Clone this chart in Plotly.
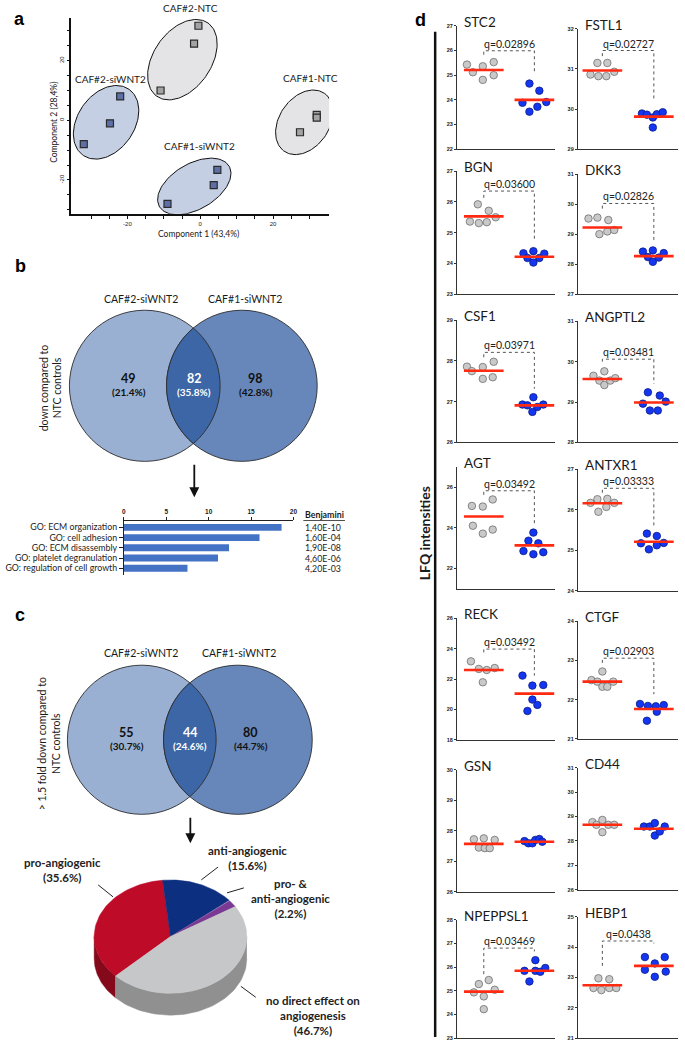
import numpy as np
import plotly.graph_objects as go

W, H = 685, 1046

# ================= DATA =================
# panel a : PCA scores (Component 1, Component 2)
pca_groups = ["CAF#2-NTC", "CAF#2-siWNT2", "CAF#1-NTC", "CAF#1-siWNT2"]
pc1_caf2_ntc = [-0.5, -1.7, -10.9]
pc2_caf2_ntc = [31.7, 25.7, 10.0]
pc1_caf2_si = [-22.0, -24.8, -32.0]
pc2_caf2_si = [8.0, -1.0, -8.0]
pc1_caf1_ntc = [32.0, 32.0, 27.4]
pc2_caf1_ntc = [1.8, 0.9, -4.0]
pc1_caf1_si = [4.7, 3.7, -9.0]
pc2_caf1_si = [-16.6, -21.7, -28.0]

# panel b : Venn + GO enrichment
venn_sets = ["CAF#2-siWNT2", "CAF#1-siWNT2"]
venn_b_counts = [49, 82, 98]
venn_b_pct = ["21.4%", "35.8%", "42.8%"]
go_terms = ["GO: ECM organization", "GO: cell adhesion", "GO: ECM disassembly",
            "GO: platelet degranulation", "GO: regulation of cell growth"]
go_values = [18.6, 16.0, 12.4, 11.1, 7.5]
go_benjamini = ["1,40E-10", "1,60E-04", "1,90E-08", "4,60E-06", "4,20E-03"]

# panel c : Venn + pie
venn_c_counts = [55, 44, 80]
venn_c_pct = ["30.7%", "24.6%", "44.7%"]
pie_labels = ["pro-angiogenic", "anti-angiogenic", "pro- &<br>anti-angiogenic",
              "no direct effect on<br>angiogenesis"]
pie_pct = [35.6, 15.6, 2.2, 46.7]

# panel d : LFQ intensities
genes = ["STC2", "FSTL1", "BGN", "DKK3", "CSF1", "ANGPTL2", "AGT", "ANTXR1",
         "RECK", "CTGF", "GSN", "CD44", "NPEPPSL1", "HEBP1"]
ntc_vals = [
    [25.43, 25.12, 25.36, 24.81, 25.53, 25.00],
    [30.86, 30.82, 31.15, 30.82, 31.15, 30.93],
    [25.36, 25.31, 25.92, 25.34, 25.71, 25.50],
    [29.52, 29.55, 29.00, 29.09, 29.47, 29.14],
    [27.86, 27.75, 27.85, 27.56, 27.98, 27.60],
    [29.65, 29.53, 29.42, 29.76, 29.53, 29.59],
    [25.09, 24.11, 25.06, 23.72, 25.41, 23.92],
    [26.17, 26.26, 25.95, 26.07, 26.27, 26.17],
    [23.17, 22.67, 21.79, 22.60, 22.73],
    [22.50, 22.46, 22.72, 22.33, 22.33, 22.46],
    [27.72, 27.45, 27.75, 27.43, 27.43, 27.70],
    [28.77, 28.66, 28.86, 28.36, 28.66, 28.66],
    [24.93, 25.28, 24.76, 24.22, 25.45, 25.04],
    [22.65, 22.97, 22.58, 22.94, 22.65, 22.65],
]
si_vals = [
    [23.88, 24.66, 23.52, 23.72, 24.37, 23.91],
    [29.89, 29.86, 29.79, 29.54, 29.87, 29.92],
    [24.33, 24.18, 24.40, 24.03, 24.18, 24.32],
    [28.42, 28.24, 28.46, 28.08, 28.22, 28.37],
    [26.93, 26.91, 27.11, 26.75, 26.87, 26.93],
    [28.96, 29.24, 28.79, 28.79, 29.16, 29.01],
    [22.86, 23.37, 22.70, 23.77, 23.24, 22.80],
    [25.17, 25.41, 25.02, 25.35, 25.12, 25.18],
    [22.23, 19.90, 21.57, 20.65, 20.30, 21.61],
    [21.89, 21.84, 21.46, 21.83, 21.69, 21.86],
    [27.66, 27.59, 27.59, 27.70, 27.73, 27.64],
    [28.59, 28.59, 28.73, 28.22, 28.39, 28.59],
    [25.84, 25.39, 25.84, 26.29, 25.80, 25.96],
    [23.67, 23.25, 23.46, 23.02, 23.67, 23.19],
]
ntc_mean = [25.21, 30.96, 25.53, 29.22, 27.76, 29.57, 24.57, 26.16, 22.60, 22.46, 27.57, 28.66, 24.96, 22.74]
si_mean = [24.00, 29.81, 24.22, 28.27, 26.91, 28.99, 23.14, 25.21, 21.04, 21.76, 27.64, 28.50, 25.84, 23.38]
q_vals = ["0.02896", "0.02727", "0.03600", "0.02826", "0.03971", "0.03481", "0.03492",
          "0.03333", "0.03492", "0.02903", None, None, "0.03469", "0.0438"]
y_lo = [22, 29, 23, 27, 26, 28, 21, 24, 18, 21, 26, 26, 23, 21]
y_hi = [27, 32, 27, 31, 29, 31, 27, 27, 26, 24, 30, 31, 28, 25]
y_tick0 = [22, 29, 23, 27, 26, 28, 22, 24, 18, 21, 26, 26, 23, 21]
y_dtick = [1, 1, 1, 1, 1, 1, 2, 1, 2, 1, 1, 1, 1, 1]

# ================= LAYOUT HELPERS (positions / styles) =================
# beeswarm offsets in px
ntc_jit = [[-17, -11, -1, -1, 10, 10], [-12, -4, -5, 4, 5, 12], [-14, -5, -6, 3, 5, 12],
           [-14, -5, -3, 5, 6, 12], [-17, -12, -1, -1, 10, 9], [-9, -3, 2, 2, 8, 13],
           [-12, -11, -1, -1, 9, 9], [-12, -5, -4, 4, 5, 12], [-13, -5, -1, 3, 11],
           [-11, -5, 0, 0, 5, 11], [-10, -5, 0, 1, 6, 11], [-10, -6, 0, 0, 6, 12],
           [-10, -5, 0, 0, 5, 11], [-9, -4, -1, 7, 7, 14]]
si_jit = [[-12, -5, -5, 3, 5, 12], [-12, -7, -1, -1, 3, 9], [-11, -7, -1, -1, 5, 10],
          [-11, -6, -1, -1, 5, 10], [-12, -7, -1, -2, 3, 9], [-11, -6, -4, 4, 6, 12],
          [-11, -6, -1, -1, 4, 9], [-13, -7, -5, 3, 3, 10], [-12, -7, -2, -2, 3, 9],
          [-14, -6, -7, 2, 3, 10], [-10, -6, -2, 1, 5, 8], [-10, -4, 1, 1, 6, 11],
          [-10, -5, 1, 1, 6, 11], [-9, -9, 1, 1, 11, 12]]
# bracket (left leg bottom, top, right leg bottom) in data units
brackets = [(25.83, 25.99, 25.06), (31.32, 31.46, 30.2), (26.13, 26.35, 24.71),
            (29.85, 30.02, 28.74), (28.09, 28.21, 27.32), (30.0, 30.06, 29.45),
            (25.64, 25.84, 24.13), (26.42, 26.53, 25.54), (23.76, 23.98, 22.23),
            (22.94, 23.06, 22.14), None, None, (25.7, 26.8, 26.66), (23.38, 24.2, 24.12)]
tops = [23, 26, 169, 172, 319, 320, 467, 469, 619, 622, 771, 769, 922, 919]
bots = [147, 147, 293, 293, 442, 442, 589, 591, 741, 740, 894, 892, 1041, 1041]
col_x = [(459, 558), (581, 682)]
col_xrange = [(0.47, 2.41), (0.525, 2.47)]

FONT = "Lato, Open Sans, sans-serif"
DARK = "#1a1a1a"

fig = go.Figure()
layout = dict(width=W, height=H, margin=dict(l=0, r=0, t=0, b=0),
              paper_bgcolor="white", plot_bgcolor="rgba(0,0,0,0)", showlegend=False,
              font=dict(family=FONT, color=DARK))
ann = []
shapes = []

def A(x, y, text, size=10, bold=False, color=DARK, angle=0, xanchor="center", yanchor="middle", **kw):
    d = dict(x=x, y=y, text=("<b>%s</b>" % text) if bold else text, showarrow=False,
             font=dict(size=size, color=color, family=kw.pop("family", FONT)),
             textangle=angle, xanchor=xanchor, yanchor=yanchor, xref="x17", yref="y17")
    d.update(kw)
    ann.append(d)

# overlay pixel axis
layout["xaxis17"] = dict(domain=[0, 1], range=[0, W], visible=False, fixedrange=True, anchor="y17")
layout["yaxis17"] = dict(domain=[0, 1], range=[H, 0], visible=False, fixedrange=True, anchor="x17")

# ================= PANEL a =================
PX0, PX1, PY0, PY1 = 70, 330, 15, 212
XR = (-35.4, 35.4)
YR = (-31.33, 34.33)
def p2d(px, py):
    x = XR[0] + (np.asarray(px) - PX0) / (PX1 - PX0) * (XR[1] - XR[0])
    y = YR[0] + (PY1 - np.asarray(py)) / (PY1 - PY0) * (YR[1] - YR[0])
    return x, y

tv = list(range(-30, 31, 5))
layout["xaxis"] = dict(domain=[PX0 / W, PX1 / W], range=XR, anchor="y", showline=True, linecolor="#111",
                       linewidth=1.5, ticks="outside", ticklen=3, tickcolor="#111", tickvals=tv,
                       ticktext=[str(v) if v % 20 == 0 else "" for v in tv],
                       tickfont=dict(size=6, family="Liberation Sans"), showgrid=False, zeroline=False,
                       fixedrange=True)
layout["yaxis"] = dict(domain=[1 - PY1 / H, 1 - PY0 / H], range=YR, anchor="x", showline=True, linecolor="#111",
                       linewidth=1.5, ticks="outside", ticklen=3, tickcolor="#111", tickvals=tv,
                       ticktext=[str(v) if v % 20 == 0 else "" for v in tv], tickangle=-90,
                       tickfont=dict(size=6, family="Liberation Sans"), showgrid=False, zeroline=False,
                       fixedrange=True)

# ellipses: (center px, semi-major, semi-minor, angle deg), fill
ellipses = [((182, 57), 45, 29, 55, "#e4e4e6"), ((105, 120), 40.5, 28.6, 55, "#c4cfe3"),
            ((305, 120), 35.5, 25.2, 55, "#e4e4e6"), ((194, 184.5), 40.6, 23, 30, "#c4cfe3")]
t = np.linspace(0, 2 * np.pi, 120)
for (c, a, b, ang, col) in ellipses:
    th = np.radians(ang)
    ex = c[0] + a * np.cos(t) * np.cos(th) - b * np.sin(t) * np.sin(th)
    ey = c[1] - (a * np.cos(t) * np.sin(th) + b * np.sin(t) * np.cos(th))
    dx, dy = p2d(ex, ey)
    fig.add_trace(go.Scatter(x=dx, y=dy, mode="lines", fill="toself", fillcolor=col,
                             line=dict(color="#111", width=1), xaxis="x", yaxis="y", hoverinfo="skip"))

for xs, ys, col in [(pc1_caf2_ntc, pc2_caf2_ntc, "#a3a3a3"), (pc1_caf2_si, pc2_caf2_si, "#5c6fa6"),
                    (pc1_caf1_ntc, pc2_caf1_ntc, "#a3a3a3"), (pc1_caf1_si, pc2_caf1_si, "#5c6fa6")]:
    fig.add_trace(go.Scatter(x=xs, y=ys, mode="markers", xaxis="x", yaxis="y",
                             marker=dict(symbol="square", size=7, color=col, line=dict(color="#2a2a2a", width=1.2))))

for name, (lx, ly) in zip(pca_groups, [(190, 5), (109, 76), (311, 75), (199, 144)]):
    A(lx, ly, name, size=10)
A(198, 232, "Component 1 (43,4%)", size=8.5)
A(53, 120, "Component 2 (28,4%)", size=8.5, angle=-90)

# ================= PANEL b / c Venns =================
def lens_path(c1, c2, r, n=60):
    d = c2[0] - c1[0]
    h = np.sqrt(r * r - (d / 2) ** 2)
    phi = np.arcsin(h / r)
    a1 = np.linspace(-phi, phi, n)
    a2 = np.linspace(np.pi - phi, np.pi + phi, n)
    pts = [(c1[0] + r * np.cos(a), c1[1] - r * np.sin(a)) for a in a1]
    pts += [(c2[0] + r * np.cos(a), c2[1] - r * np.sin(a)) for a in a2]
    return "M " + " L ".join("%.2f,%.2f" % p for p in pts) + " Z"

def venn(cl, cr, r, counts, pcts, label_y, xs):
    for c, col in [(cl, "#9ab0d2"), (cr, "#6787ba")]:
        shapes.append(dict(type="circle", xref="x17", yref="y17", x0=c[0] - r, x1=c[0] + r,
                           y0=c[1] - r, y1=c[1] + r, fillcolor=col, line=dict(color="#2b2b2b", width=0.9)))
    shapes.append(dict(type="path", xref="x17", yref="y17", path=lens_path(cl, cr, r),
                       fillcolor="#3d66a6", line=dict(color="#2b2b2b", width=0.9)))
    for k, (cnt, pc, x) in enumerate(zip(counts, pcts, xs)):
        colr = "white" if k == 1 else "#111"
        A(x, label_y, str(cnt), size=12.5, bold=True, color=colr)
        A(x, label_y + 13.5, "(%s)" % pc, size=10, bold=True, color=colr)

venn((144, 385), (242, 385), 76, venn_b_counts, venn_b_pct, 378, [128, 194, 256])
A(140, 298, venn_sets[0], size=10.5)
A(245, 298, venn_sets[1], size=10.5)
A(49, 387, "down compared to<br>NTC controls", size=10.5, angle=-90)

venn((141, 741), (238, 741), 75, venn_c_counts, venn_c_pct, 734, [126, 190, 251])
A(140, 654, venn_sets[0], size=10.5)
A(239, 654, venn_sets[1], size=10.5)
A(47, 745, "&gt; 1.5 fold down compared to<br>NTC controls", size=10.5, angle=-90)

# arrows
for x, y0, y1 in [(194, 463, 497), (190, 818, 845)]:
    ann.append(dict(x=x, y=y1, ax=x, ay=y0, xref="x17", yref="y17", axref="x17", ayref="y17",
                    showarrow=True, arrowhead=2, arrowsize=1.1, arrowwidth=1.8, arrowcolor="#111", text=""))

# ================= GO bar chart =================
layout["xaxis2"] = dict(domain=[123 / W, 294 / W], range=[0, 20], anchor="y2", side="top", showline=True,
                        linecolor="#222", linewidth=1, ticks="outside", ticklen=3, tickcolor="#222",
                        tickvals=[0, 5, 10, 15, 20], tickfont=dict(size=6.5, family="Liberation Sans", weight="bold"),
                        showgrid=False, zeroline=False, fixedrange=True)
layout["yaxis2"] = dict(domain=[1 - 575 / H, 1 - 521 / H], range=[4.62, -0.62], anchor="x2", showline=True,
                        linecolor="#222", linewidth=1, ticks="outside", ticklen=4, tickcolor="#222",
                        tickvals=list(range(len(go_terms))), ticktext=go_terms,
                        tickfont=dict(size=8.8, color="#222"), showgrid=False, zeroline=False, fixedrange=True)
fig.add_trace(go.Bar(x=go_values, y=list(range(len(go_terms))), orientation="h", xaxis="x2", yaxis="y2",
                     marker=dict(color="#4472c4", line=dict(width=0)), width=0.68))
A(304, 514, "Benjamini", size=8.8, bold=True, xanchor="left")
shapes.append(dict(type="line", xref="x17", yref="y17", x0=304, x1=346, y0=520.5, y1=520.5,
                   line=dict(color="#222", width=0.8)))
for i, v in enumerate(go_benjamini):
    ann.append(dict(x=304 / W, y=i, xref="paper", yref="y2", text=v, showarrow=False, xanchor="left",
                    yanchor="middle", font=dict(size=8.8, color="#222", family=FONT)))

# ================= pie (pseudo 3D) =================
cx, cy, RX, RY, DEPTH = 170, 939, 77, 57, 22
top_cols = ["#be0b28", "#0d2f80", "#7a3a94", "#c6c7c9"]
side_cols = ["#840a1b", "#0a235e", "#58296c", "#909091"]
total = sum(pie_pct)
start = 224.0
spans = []
a0 = start
for p in pie_pct:
    a1 = a0 - 360.0 * p / total
    spans.append((a1, a0))
    a0 = a1

def arc(lo, hi, dy=0, n=60):
    a = np.radians(np.linspace(hi, lo, n))
    return cx + RX * np.cos(a), cy - RY * np.sin(a) + dy

for (lo, hi), col in zip(spans, side_cols):
    for s0, s1 in [(-180, 0), (180, 360)]:
        l, h = max(lo, s0), min(hi, s1)
        if h - l > 0.1:
            tx, ty = arc(l, h)
            bx, by = arc(l, h, DEPTH)
            fig.add_trace(go.Scatter(x=np.r_[tx, bx[::-1]], y=np.r_[ty, by[::-1]], mode="lines", fill="toself",
                                     fillcolor=col, line=dict(width=0.5, color=col), xaxis="x17", yaxis="y17",
                                     hoverinfo="skip"))
for (lo, hi), col in zip(spans, top_cols):
    tx, ty = arc(lo, hi)
    fig.add_trace(go.Scatter(x=np.r_[cx, tx, cx], y=np.r_[cy, ty, cy], mode="lines", fill="toself",
                             fillcolor=col, line=dict(width=0.5, color=col), xaxis="x17", yaxis="y17",
                             hoverinfo="skip"))

pie_text_pos = [(61, 872), (248, 860), (291, 901), (314, 1018)]
pie_leaders = [((97, 887), (112, 899)), ((218, 869), (201, 882)), ((244, 890), (227, 895)),
               ((241, 989), (256, 1000))]
for lab, p, (tx, ty), ((x0, y0), (x1, y1)) in zip(pie_labels, pie_pct, pie_text_pos, pie_leaders):
    A(tx, ty, "%s<br>(%.1f%%)" % (lab, p), size=11.5, bold=True, color="#222")
    shapes.append(dict(type="line", xref="x17", yref="y17", x0=x0, y0=y0, x1=x1, y1=y1,
                       line=dict(color="#222", width=1)))

# ================= PANEL d =================
shapes.append(dict(type="line", xref="x17", yref="y17", x0=437, x1=437, y0=29, y1=1040,
                   line=dict(color="#111", width=2.5)))
A(427, 533, "LFQ intensities", size=14, bold=True, angle=-90)

for i, g in enumerate(genes):
    ax = i + 3
    col = i % 2
    x0p, x1p = col_x[col]
    xr = col_xrange[col]
    ppu = (x1p - x0p) / (xr[1] - xr[0])
    layout["xaxis%d" % ax] = dict(domain=[x0p / W, x1p / W], range=xr, anchor="y%d" % ax, showline=True,
                                  linecolor="#333", linewidth=1.2, showticklabels=False, ticks="",
                                  showgrid=False, zeroline=False, fixedrange=True)
    layout["yaxis%d" % ax] = dict(domain=[1 - bots[i] / H, 1 - tops[i] / H], range=[y_lo[i], y_hi[i]],
                                  anchor="x%d" % ax, showline=True, linecolor="#333", linewidth=1.2,
                                  ticks="outside", ticklen=2, tickcolor="#333", tick0=y_tick0[i],
                                  dtick=y_dtick[i], tickmode="linear",
                                  tickfont=dict(size=5.5, family="Liberation Sans", weight="bold", color="#222"),
                                  showgrid=False, zeroline=False, fixedrange=True)
    xa, ya = "x%d" % ax, "y%d" % ax
    gx = [1 + o / ppu for o in ntc_jit[i]]
    bx = [2 + o / ppu for o in si_jit[i]]
    fig.add_trace(go.Scatter(x=gx, y=ntc_vals[i], mode="markers", xaxis=xa, yaxis=ya,
                             marker=dict(size=7.5, color="#c9c9c9", line=dict(color="#6e6e6e", width=0.8))))
    fig.add_trace(go.Scatter(x=bx, y=si_vals[i], mode="markers", xaxis=xa, yaxis=ya,
                             marker=dict(size=7.5, color="#1436f0", line=dict(color="#0b1c8a", width=0.8))))
    hw = 20 / ppu
    for cxx, m in [(1, ntc_mean[i]), (2, si_mean[i])]:
        fig.add_trace(go.Scatter(x=[cxx - hw, cxx + hw], y=[m, m], mode="lines", xaxis=xa, yaxis=ya,
                                 line=dict(color="#ff2a10", width=2.6), hoverinfo="skip"))
    if q_vals[i] is not None:
        lb, tp, rb = brackets[i]
        fig.add_trace(go.Scatter(x=[1, 1, 2, 2], y=[lb, tp, tp, rb], mode="lines", xaxis=xa, yaxis=ya,
                                 line=dict(color="#555", width=1, dash="dot"), hoverinfo="skip"))
        ann.append(dict(x=1.5, y=tp, xref=xa, yref=ya, text="q=" + q_vals[i], showarrow=False,
                        xanchor="center", yanchor="bottom", yshift=-1,
                        font=dict(size=10.5, color="#222", family=FONT)))
    A(x0p + 5, tops[i] - 4, g, size=13.5, xanchor="left")

# panel letters
for L, (x, y) in zip("abcd", [(18, 16), (19, 265), (18, 616), (422, 17)]):
    A(x, y, L, size=18, bold=True, color="#000", family="Liberation Sans")

layout["annotations"] = ann
layout["shapes"] = shapes
fig.update_layout(**layout)
fig.write_html("out.html", config={"displayModeBar": False},
               post_script="document.body.style.margin='0px';")
